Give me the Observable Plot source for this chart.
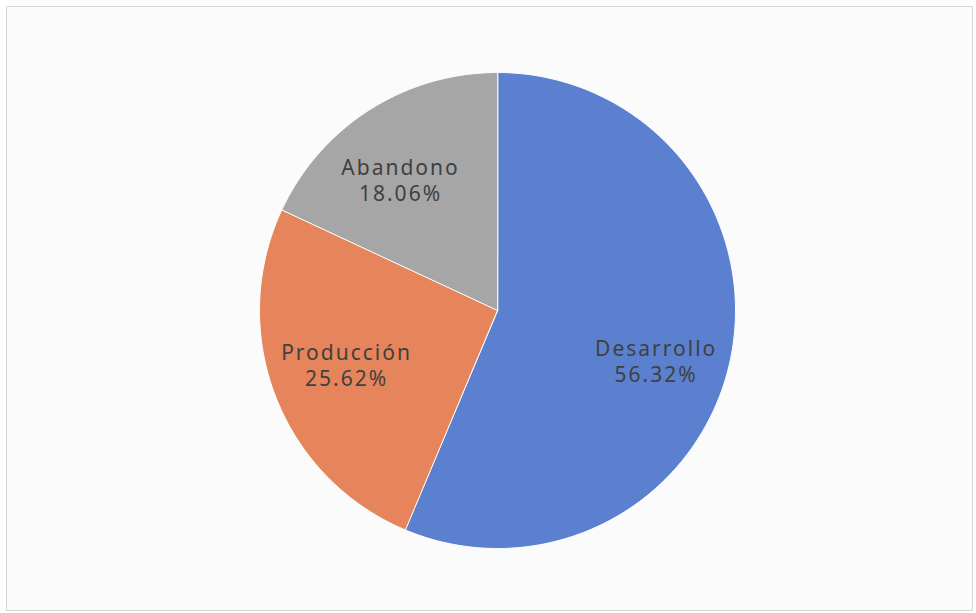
<!DOCTYPE html>
<html><head><meta charset="utf-8">
<script src="https://cdn.jsdelivr.net/npm/d3@7"></script>
<script src="https://cdn.jsdelivr.net/npm/@observablehq/plot@0.6"></script>
<style>
body{margin:0;background:#fff;}
#frame{position:absolute;left:6px;top:6px;width:967px;height:605px;border:1.5px solid #d6d6d6;background:#fbfbfb;box-sizing:border-box}
#chart{position:absolute;left:0;top:0}
</style>
</head><body><div id="frame"></div><div id="chart"></div>
<script>
// Data
const categories = ["Desarrollo", "Producción", "Abandono"];
const shares = [56.32, 25.62, 18.06];
const shareLabels = ["56.32%", "25.62%", "18.06%"];
const colors = ["#5b80cf", "#e6845c", "#a6a6a6"];

// Layout
const W = 976, H = 613, CX = 497, CY = 310, R = 238, LABEL_R = 0.68;
// label nudges in px (Excel "best fit" placement)
const labelNudge = {"Desarrollo": [0, 19], "Producción": [0, -4], "Abandono": [-10, 6]};

const rows = categories.map((name, i) => ({name, value: shares[i], label: shareLabels[i]}));
const arcs = d3.pie().sort(null).value(d => d.value)(rows);

const poly = [];
for (const a of arcs) {
  const n = Math.max(2, Math.ceil((a.endAngle - a.startAngle) / (Math.PI / 360)));
  poly.push({name: a.data.name, x: 0, y: 0});
  for (let k = 0; k <= n; k++) {
    const t = a.startAngle + (a.endAngle - a.startAngle) * k / n;
    poly.push({name: a.data.name, x: Math.sin(t), y: Math.cos(t)});
  }
}
const labelData = arcs.map(a => {
  const m = (a.startAngle + a.endAngle) / 2;
  const [nx, ny] = labelNudge[a.data.name];
  return {name: a.data.name, pct: a.data.label,
    x: LABEL_R * Math.sin(m) + nx / R, y: LABEL_R * Math.cos(m) - ny / R};
});

const chart = Plot.plot({
  width: W, height: H, margin: 0,
  x: {domain: [-CX / R, (W - CX) / R], axis: null},
  y: {domain: [-(H - CY) / R, CY / R], axis: null},
  color: {domain: categories, range: colors},
  style: {background: "transparent", fontFamily: "'Noto Sans', sans-serif", letterSpacing: "2px"},
  marks: [
    Plot.line(poly, {x: "x", y: "y", z: "name", fill: "name", stroke: "#ffffff", strokeWidth: 1, curve: "linear-closed"}),
    Plot.text(labelData, {x: "x", y: "y", text: "name", dy: -12, fontSize: 21, fill: "#404040"}),
    Plot.text(labelData, {x: "x", y: "y", text: "pct", dy: 14, fontSize: 21, fill: "#404040"})
  ]
});
document.getElementById("chart").append(chart);
</script>
</body></html>
